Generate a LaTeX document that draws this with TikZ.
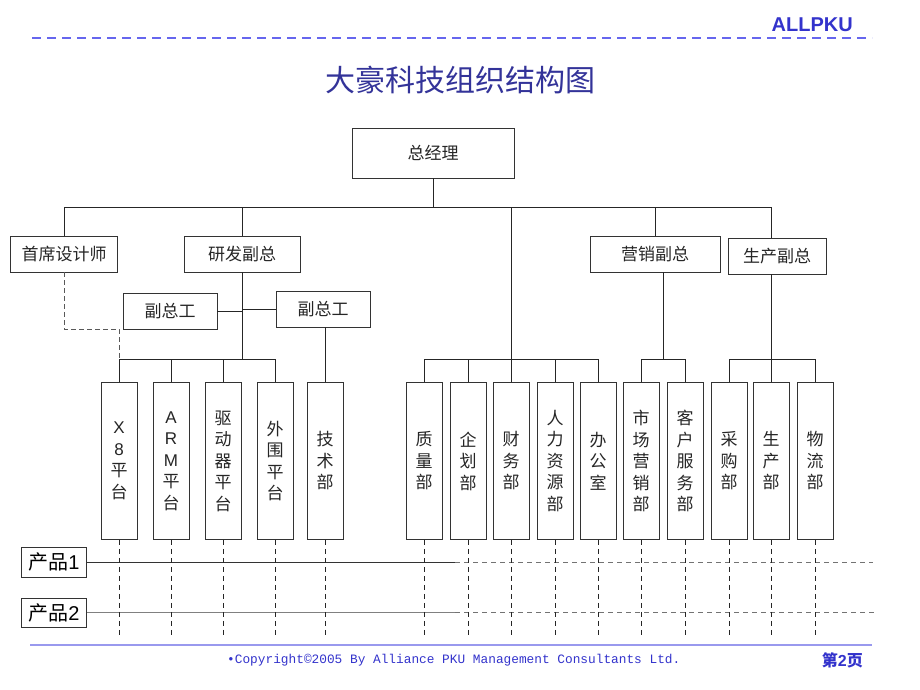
\documentclass[tikz,border=0pt]{standalone}
\usepackage{fontspec}
\usetikzlibrary{calc}
\setmainfont{Liberation Sans}
\newfontfamily\cjk{Noto Sans CJK SC}
\newfontfamily\lat{Liberation Sans}
\newfontfamily\mono{Liberation Mono}
\definecolor{titleblue}{HTML}{333399}
\definecolor{hdrblue}{HTML}{3333CC}
\definecolor{dashblue}{HTML}{6666EE}
\definecolor{footline}{HTML}{9999EE}
\tikzset{
  box/.style={draw=black!80, line width=0.8pt, fill=white, inner sep=0pt,
    font=\cjk\fontsize{17}{20}\selectfont, text=black!85},
  vbox/.style={box, minimum width=36, minimum height=157, align=center,
    font=\cjk\fontsize{17}{21.5}\selectfont},
  pbox/.style={box, minimum width=65, font=\cjk\fontsize{20}{22}\selectfont, text=black},
  conn/.style={draw=black!85, line width=0.8pt},
  vdash/.style={draw=black!85, line width=0.8pt, dash pattern=on 5pt off 4pt},
  hdash/.style={draw=black!55, line width=1pt, dash pattern=on 5pt off 4pt}
}
\begin{document}
\begin{tikzpicture}[x=1pt,y=-1pt]
\useasboundingbox (0,0) rectangle (920,690);
\fill[white] (0,0) rectangle (920,690);

% header
\node[anchor=east, inner sep=0, text=hdrblue, font=\lat\bfseries\fontsize{20}{20}\selectfont] (hdr) at (853,25) {ALLPKU};
\coordinate (hl) at (32,38);
\coordinate (hr) at (872,38);
\draw[dashblue, line width=1.2pt, dash pattern=on 9pt off 6pt] (hl) -- (hr);

% title
\node[inner sep=0, text=titleblue, font=\cjk\fontsize{30}{30}\selectfont] (title) at (460,80) {大豪科技组织结构图};

% top boxes
\node[box, minimum width=162, minimum height=50] (zjl) at (433,153) {总经理};
\node[box, minimum width=107, minimum height=36] (sj) at (64,254) {首席设计师};
\node[box, minimum width=116, minimum height=36] (yf) at (242,254) {研发副总};
\node[box, minimum width=130, minimum height=36] (yx) at (655,254) {营销副总};
\node[box, minimum width=98, minimum height=36] (sc) at (777,256) {生产副总};
\node[box, minimum width=94, minimum height=36] (fl) at (170,311) {副总工};
\node[box, minimum width=94, minimum height=36] (fr) at (323,309) {副总工};

% vertical boxes
\node[vbox] (r1) at (119,461) {{\lat X}\\{\lat 8}\\平\\台};
\node[vbox] (r2) at (171,461) {{\lat A}\\{\lat R}\\{\lat M}\\平\\台};
\node[vbox] (r3) at (223,461) {驱\\动\\器\\平\\台};
\node[vbox] (r4) at (275,461) {外\\围\\平\\台};
\node[vbox] (r5) at (325,461) {技\\术\\部};
\node[vbox] (m1) at (424,461) {质\\量\\部};
\node[vbox] (m2) at (468,461) {企\\划\\部};
\node[vbox] (m3) at (511,461) {财\\务\\部};
\node[vbox] (m4) at (555,461) {人\\力\\资\\源\\部};
\node[vbox] (m5) at (598,461) {办\\公\\室};
\node[vbox] (m6) at (641,461) {市\\场\\营\\销\\部};
\node[vbox] (m7) at (685,461) {客\\户\\服\\务\\部};
\node[vbox] (m8) at (729,461) {采\\购\\部};
\node[vbox] (m9) at (771,461) {生\\产\\部};
\node[vbox] (m10) at (815,461) {物\\流\\部};

% product boxes
\node[pbox, minimum height=30] (p1) at (54,562) {产品{\lat 1}};
\node[pbox, minimum height=29] (p2) at (54,612.5) {产品{\lat 2}};

% bus coordinates
\coordinate (b1) at (433,207);
\coordinate (b2) at (0,359);
\coordinate (bot) at (0,636);
\coordinate (sw) at (455,0);
\coordinate (e1) at (873,562);
\coordinate (e2) at (875,612.5);

% top level connectors
\draw[conn] (zjl.south) -- (zjl.south|-b1);
\draw[conn] (sj.north) -- (sj.north|-b1) -- (m9.north|-b1) -- (m9.north|-sc.north);
\draw[conn] (yf.north) -- (yf.north|-b1);
\draw[conn] (yx.north) -- (yx.north|-b1);
\draw[conn] (m3.north|-b1) -- (m3.north|-b2);

% R&D
\draw[conn] (yf.south) -- (yf.south|-b2);
\draw[conn] (fl.east) -- (fl.east-|yf.south);
\draw[conn] (fr.west) -- (fr.west-|yf.south);
\draw[conn] (r1.north) -- (r1.north|-b2) -- (r4.north|-b2) -- (r4.north);
\draw[conn] (r2.north) -- (r2.north|-b2);
\draw[conn] (r3.north) -- (r3.north|-b2);
\draw[conn] (r5.north|-fr.south) -- (r5.north);
\draw[draw=black!65, line width=0.9pt, dash pattern=on 5pt off 3pt]
  (sj.south) -- (sj.south|-fl.south) -- (r1.north|-fl.south) -- (r1.north|-b2);

% middle group
\draw[conn] (m1.north) -- (m1.north|-b2) -- (m5.north|-b2) -- (m5.north);
\draw[conn] (m2.north) -- (m2.north|-b2);
\draw[conn] (m3.north) -- (m3.north|-b2);
\draw[conn] (m4.north) -- (m4.north|-b2);

% marketing
\draw[conn] (m6.north) -- (m6.north|-b2) -- (m7.north|-b2) -- (m7.north);
\draw[conn] ($(m6.north|-b2)!0.5!(m7.north|-b2)$) -- ($(m6.north|-yx.south)!0.5!(m7.north|-yx.south)$);

% production
\draw[conn] (m8.north) -- (m8.north|-b2) -- (m10.north|-b2) -- (m10.north);
\draw[conn] (m9.north) -- (m9.north|-sc.south);

% product lines
\draw[draw=black!80, line width=0.9pt] (p1.east) -- (p1.east-|sw);
\draw[hdash] (p1.east-|sw) -- (e1);
\draw[draw=black!50, line width=1.2pt] (p2.east) -- (p2.east-|sw);
\draw[hdash] (p2.east-|sw) -- (e2);

% dashed verticals
\foreach \n in {r1,r2,r3,r4,r5,m1,m2,m3,m4,m5,m6,m7,m8,m9,m10}
  \draw[vdash] (\n.south) -- (\n.south|-bot);

% footer
\coordinate (fl1) at (30,645);
\coordinate (fl2) at (872,645);
\draw[footline, line width=1.3pt] (fl1) -- (fl2);
\node[anchor=west, inner sep=0, text=hdrblue, font=\mono\fontsize{12.8}{13}\selectfont] (copy) at (227,660) {•Copyright©2005 By Alliance PKU Management Consultants Ltd.};
\node[anchor=east, inner sep=0, text=hdrblue, font=\cjk\bfseries\fontsize{16}{16}\selectfont] (page) at (863,660) {第{\lat\bfseries 2}页};
\end{tikzpicture}
\end{document}
